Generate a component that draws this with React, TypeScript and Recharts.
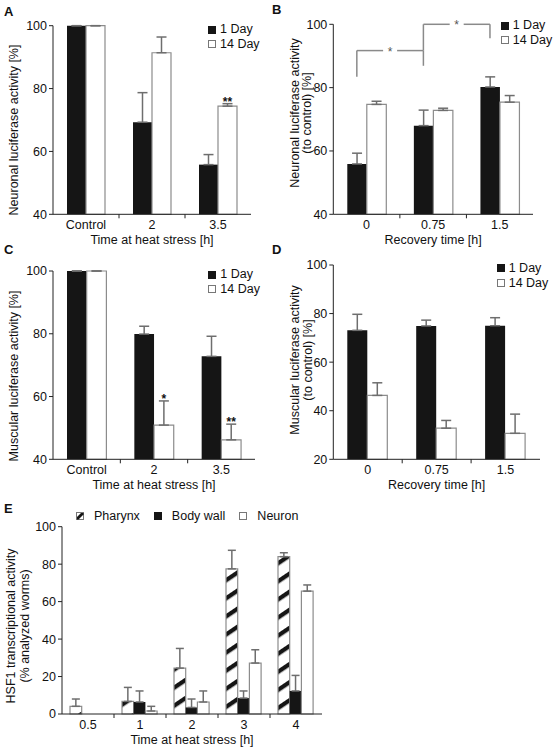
import React from 'react';
import { BarChart, Bar, XAxis, YAxis, ErrorBar, Legend, Label, ReferenceLine, ReferenceDot } from 'recharts';

// categories
const heatCats = ['Control', '2', '3.5'];
const recoveryCats = ['0', '0.75', '1.5'];
const hoursE = ['0.5', '1', '2', '3', '4'];
const ageSeries = ['1 Day', '14 Day'];
const tissueSeries = ['Pharynx', 'Body wall', 'Neuron'];

// A: neuronal luciferase, heat stress
const neuroHeat1 = [100, 69.3, 55.8];
const neuroHeat1Err = [0, 9.4, 3.2];
const neuroHeat14 = [100, 91.4, 74.4];
const neuroHeat14Err = [0, 5.0, 0.8];
const neuroHeatSig = ['', '', '**'];

// B: neuronal luciferase, recovery
const neuroRec1 = [55.9, 68.0, 80.2];
const neuroRec1Err = [3.4, 4.9, 3.2];
const neuroRec14 = [74.7, 72.8, 75.4];
const neuroRec14Err = [1.0, 0.7, 2.1];
const bracketFrom = ['0', '0.75'];
const bracketTo = ['0.75', '1.5'];
const bracketFromBase = [83.4, 91.7];
const bracketToBase = [86.9, 95.6];
const bracketTop = [91.7, 100];
const bracketMark = ['*', '*'];

// C: muscular luciferase, heat stress
const muscHeat1 = [100, 79.9, 72.8];
const muscHeat1Err = [0, 2.5, 6.4];
const muscHeat14 = [100, 50.9, 46.2];
const muscHeat14Err = [0, 7.7, 5.0];
const muscHeatSig = ['', '*', '**'];

// D: muscular luciferase, recovery
const muscRec1 = [73.1, 74.9, 75.0];
const muscRec1Err = [6.6, 2.4, 3.3];
const muscRec14 = [46.3, 32.8, 30.7];
const muscRec14Err = [5.2, 3.2, 7.9];

// E: HSF1 activity per tissue
const pharynx = [4.1, 6.7, 24.5, 77.5, 84.0];
const pharynxErr = [3.9, 7.5, 10.5, 9.9, 2.1];
const bodyWall = [0, 6.4, 3.5, 8.5, 12.3];
const bodyWallErr = [0, 5.9, 4.5, 3.8, 8.3];
const neuron = [0, 1.6, 6.4, 27.2, 65.6];
const neuronErr = [0, 2.5, 5.9, 7.1, 3.3];

const BLACK = '#151515';
const OUTLINE = '#8c8c8c';
const ERR = '#6e6e6e';
const AXIS = '#222';
const TEXT = '#111';
const BRACKET = '#8a8a8a';
const FONT = '"Liberation Sans", Arial, Helvetica, sans-serif';
const FS = 12.5;

const pairRows = (cats: string[], a: number[], aErr: number[], b: number[], bErr: number[]) =>
  cats.map((name, i) => ({ name, day1: a[i], day1Err: [0, aErr[i]], day14: b[i], day14Err: [0, bErr[i]] }));

const rowsE = hoursE.map((name, i) => ({
  name,
  pharynx: pharynx[i], pharynxErr: [0, pharynxErr[i]],
  body: bodyWall[i], bodyErr: [0, bodyWallErr[i]],
  neuron: neuron[i], neuronErr: [0, neuronErr[i]],
}));

const SWATCH: Record<string, string> = { '1 Day': 'black', '14 Day': 'white', Pharynx: 'hatch', 'Body wall': 'black', Neuron: 'white' };

const Swatch = ({ kind }: { kind: string }) => (
  <svg width={8} height={8} style={{ display: 'block', flex: 'none' }}>
    <rect x={0.5} y={0.5} width={7} height={7} fill={kind === 'black' ? BLACK : '#fff'} stroke={kind === 'black' ? BLACK : '#777'} />
    {kind === 'hatch' && <polygon points="1,5 5,1 7.5,1 7.5,2.5 2.5,7.5 1,7.5" fill={BLACK} />}
  </svg>
);

const LegendBox = ({ payload, horizontal, order }: any) => {
  const items = [...(payload || [])].sort((a: any, b: any) => order.indexOf(a.value) - order.indexOf(b.value));
  return (
    <div style={{ display: 'flex', flexDirection: horizontal ? 'row' : 'column', fontSize: FS, lineHeight: '14.5px', color: TEXT, fontFamily: FONT }}>
      {items.map((e: any) => (
        <div key={e.value} style={{ display: 'flex', alignItems: 'center', marginRight: horizontal ? 14 : 0, whiteSpace: 'nowrap' }}>
          <Swatch kind={SWATCH[e.value]} />
          <span style={{ marginLeft: horizontal ? 10 : 4 }}>{e.value}</span>
        </div>
      ))}
    </div>
  );
};

const BandTick = (props: any) => {
  const { x, y, payload, index, band, count } = props;
  const axisY = y - 6;
  return (
    <g>
      <text x={x} y={y} dy="0.71em" textAnchor="middle" fontSize={FS} fill={TEXT}>{payload.value}</text>
      {index < count - 1 && <line x1={x + band / 2} x2={x + band / 2} y1={axisY} y2={axisY + 4} stroke={AXIS} />}
    </g>
  );
};

const YTitle = ({ lines, xs, cy }: { lines: string[]; xs: number[]; cy: number }) => (
  <g>
    {lines.map((t, i) => (
      <text key={t} x={xs[i]} y={cy} transform={`rotate(-90 ${xs[i]} ${cy})`} textAnchor="middle" dominantBaseline="central" fontSize={FS} fill={TEXT}>
        {t}
      </text>
    ))}
  </g>
);

const starShape = (mark: string, dx: number) => (p: any) => (
  <text x={p.cx + dx} y={p.cy + 2} textAnchor="middle" fontSize={12} fontWeight="bold" fill={TEXT}>{mark}</text>
);

const legShape = (dx: number) => (p: any) => (
  <line x1={p.x1 + dx} y1={p.y1} x2={p.x2 + dx} y2={p.y2} stroke={BRACKET} strokeWidth={1.5} />
);

const spanShape = (dx: number, mark: string) => (p: any) => {
  const a = p.x1 + dx;
  const b = p.x2 + dx;
  const m = (a + b) / 2;
  return (
    <g>
      <line x1={a} y1={p.y1} x2={m - 7} y2={p.y1} stroke={BRACKET} strokeWidth={1.5} />
      <line x1={m + 7} y1={p.y1} x2={b} y2={p.y1} stroke={BRACKET} strokeWidth={1.5} />
      <text x={m} y={p.y1 + 5} textAnchor="middle" fontSize={12} fill="#555">{mark}</text>
    </g>
  );
};

type PairProps = {
  left: number; top: number; width: number; height: number;
  margin: { top: number; right: number; bottom: number; left: number };
  yWidth: number; domain: [number, number]; ticks: number[];
  rows: any[]; barSize: number;
  yTitle: string[]; yTitleX: number[]; yTitleY: number; xTitle: string;
  legendAt: { left: number; top: number };
  sig?: string[];
  children?: React.ReactNode;
};

function PairPanel(p: PairProps) {
  const plotW = p.width - p.margin.left - p.yWidth - p.margin.right;
  const band = plotW / p.rows.length;
  return (
    <div style={{ position: 'absolute', left: p.left, top: p.top }}>
      <BarChart width={p.width} height={p.height} data={p.rows} margin={p.margin} barGap={0} barSize={p.barSize}>
        <XAxis dataKey="name" height={30} interval={0} axisLine={{ stroke: AXIS }} tickLine={false} tickSize={4} tickMargin={2}
          tick={<BandTick band={band} count={p.rows.length} />}>
          <Label value={p.xTitle} position="insideBottom" offset={0} style={{ fontSize: FS, fill: TEXT }} />
        </XAxis>
        <YAxis width={p.yWidth} type="number" domain={p.domain} ticks={p.ticks} interval={0} axisLine={{ stroke: AXIS }}
          tickLine={{ stroke: AXIS }} tickSize={4} tickMargin={2} tick={{ fontSize: FS, fill: TEXT }}>
          <Label content={() => <YTitle lines={p.yTitle} xs={p.yTitleX} cy={p.yTitleY} />} />
        </YAxis>
        <Legend layout="horizontal" verticalAlign="middle" align="center"
          wrapperStyle={{ left: p.legendAt.left, top: p.legendAt.top, width: 'auto', height: 'auto' }}
          content={(lp: any) => <LegendBox payload={lp.payload} order={ageSeries} />} />
        <Bar dataKey="day1" name={ageSeries[0]} fill={BLACK} isAnimationActive={false}>
          <ErrorBar dataKey="day1Err" direction="y" width={5} stroke={ERR} strokeWidth={1.5} />
        </Bar>
        <Bar dataKey="day14" name={ageSeries[1]} fill="#fff" stroke={OUTLINE} strokeWidth={1.2} isAnimationActive={false}>
          <ErrorBar dataKey="day14Err" direction="y" width={5} stroke={ERR} strokeWidth={1.5} />
        </Bar>
        {(p.sig || []).map((s, i) =>
          s ? (
            <ReferenceDot key={`sig-${i}`} x={p.rows[i].name} y={p.rows[i].day14 + p.rows[i].day14Err[1]} r={1}
              ifOverflow="visible" shape={starShape(s, p.barSize / 2)} />
          ) : null
        )}
        {p.children}
      </BarChart>
    </div>
  );
}

const letter = (ch: string, left: number, top: number) => (
  <div style={{ position: 'absolute', left, top, fontSize: 13, lineHeight: '13px', fontWeight: 'bold', color: TEXT }}>{ch}</div>
);

export default function App() {
  const barB = 19.5;
  const plotWE = 553 - 62 - 231;
  return (
    <div style={{ position: 'absolute', left: 0, top: 0, width: 553, height: 749, background: '#fff', fontFamily: FONT, overflow: 'hidden' }}>
      {letter('A', 4, 5)}
      {letter('B', 272, 3)}
      {letter('C', 4, 243)}
      {letter('D', 272, 243)}
      {letter('E', 4, 502)}

      <PairPanel left={0} top={0} width={280} height={250}
        margin={{ top: 25.7, right: 29, bottom: 5.7, left: 0 }} yWidth={53}
        domain={[40, 100]} ticks={[40, 60, 80, 100]} barSize={19}
        rows={pairRows(heatCats, neuroHeat1, neuroHeat1Err, neuroHeat14, neuroHeat14Err)}
        yTitle={['Neuronal luciferase activity [%]']} yTitleX={[14]} yTitleY={130}
        xTitle="Time at heat stress [h]" legendAt={{ left: 208, top: 22.3 }} sig={neuroHeatSig} />

      <PairPanel left={270} top={0} width={283} height={250}
        margin={{ top: 24.3, right: 20, bottom: 5.7, left: 0 }} yWidth={63.3}
        domain={[40, 100]} ticks={[40, 60, 80, 100]} barSize={barB}
        rows={pairRows(recoveryCats, neuroRec1, neuroRec1Err, neuroRec14, neuroRec14Err)}
        yTitle={['Neuronal luciferase activity', '(to control) [%]']} yTitleX={[25, 37]} yTitleY={113}
        xTitle="Recovery time [h]" legendAt={{ left: 230.7, top: 18.3 }}>
        {bracketFrom.map((f, i) => (
          <ReferenceLine key={`bl-${i}`} ifOverflow="visible" segment={[{ x: f, y: bracketFromBase[i] }, { x: f, y: bracketTop[i] }]} shape={legShape(-barB / 2)} />
        ))}
        {bracketTo.map((t, i) => (
          <ReferenceLine key={`br-${i}`} ifOverflow="visible" segment={[{ x: t, y: bracketToBase[i] }, { x: t, y: bracketTop[i] }]} shape={legShape(-barB / 2)} />
        ))}
        {bracketFrom.map((f, i) => (
          <ReferenceLine key={`bs-${i}`} ifOverflow="visible" segment={[{ x: f, y: bracketTop[i] }, { x: bracketTo[i], y: bracketTop[i] }]} shape={spanShape(-barB / 2, bracketMark[i])} />
        ))}
      </PairPanel>

      <PairPanel left={0} top={250} width={280} height={250}
        margin={{ top: 21, right: 25, bottom: 10.7, left: 0 }} yWidth={53}
        domain={[40, 100]} ticks={[40, 60, 80, 100]} barSize={19.7}
        rows={pairRows(heatCats, muscHeat1, muscHeat1Err, muscHeat14, muscHeat14Err)}
        yTitle={['Muscular luciferase activity [%]']} yTitleX={[14]} yTitleY={126}
        xTitle="Time at heat stress [h]" legendAt={{ left: 208.3, top: 17.3 }} sig={muscHeatSig} />

      <PairPanel left={270} top={250} width={283} height={250}
        margin={{ top: 15, right: 13, bottom: 10.7, left: 0 }} yWidth={63.3}
        domain={[20, 100]} ticks={[20, 40, 60, 80, 100]} barSize={20}
        rows={pairRows(recoveryCats, muscRec1, muscRec1Err, muscRec14, muscRec14Err)}
        yTitle={['Muscular luciferase activity', '(to control) [%]']} yTitleX={[25, 37.7]} yTitleY={110}
        xTitle="Recovery time [h]" legendAt={{ left: 226.7, top: 11 }} />

      <div style={{ position: 'absolute', left: 0, top: 495 }}>
        <BarChart width={553} height={254} data={rowsE} margin={{ top: 31.7, right: 231, bottom: 5, left: 0 }} barGap={0} barSize={11.7}>
          <defs>
            <pattern id="hatchE" patternUnits="userSpaceOnUse" width={15} height={15} patternTransform="rotate(-34)">
              <rect width={15} height={15} fill="#fff" />
              <rect width={15} height={4.3} fill={BLACK} />
            </pattern>
          </defs>
          <XAxis dataKey="name" height={30} interval={0} axisLine={{ stroke: AXIS }} tickLine={false} tickSize={4} tickMargin={2}
            tick={<BandTick band={plotWE / rowsE.length} count={rowsE.length} />}>
            <Label value="Time at heat stress [h]" position="insideBottom" offset={0} style={{ fontSize: FS, fill: TEXT }} />
          </XAxis>
          <YAxis width={62} type="number" domain={[0, 100]} ticks={[0, 20, 40, 60, 80, 100]} interval={0} axisLine={{ stroke: AXIS }}
            tickLine={{ stroke: AXIS }} tickSize={4} tickMargin={2} tick={{ fontSize: FS, fill: TEXT }}>
            <Label content={() => <YTitle lines={['HSF1 transcriptional activity', '(% analyzed worms)']} xs={[10.6, 24.8]} cy={131} />} />
          </YAxis>
          <Legend layout="horizontal" verticalAlign="middle" align="center"
            wrapperStyle={{ left: 76, top: 14, width: 'auto', height: 'auto' }}
            content={(lp: any) => <LegendBox payload={lp.payload} order={tissueSeries} horizontal />} />
          <Bar dataKey="pharynx" name={tissueSeries[0]} fill="url(#hatchE)" stroke={OUTLINE} strokeWidth={1.2} isAnimationActive={false}>
            <ErrorBar dataKey="pharynxErr" direction="y" width={4} stroke={ERR} strokeWidth={1.5} />
          </Bar>
          <Bar dataKey="body" name={tissueSeries[1]} fill={BLACK} isAnimationActive={false}>
            <ErrorBar dataKey="bodyErr" direction="y" width={4} stroke={ERR} strokeWidth={1.5} />
          </Bar>
          <Bar dataKey="neuron" name={tissueSeries[2]} fill="#fff" stroke={OUTLINE} strokeWidth={1.2} isAnimationActive={false}>
            <ErrorBar dataKey="neuronErr" direction="y" width={4} stroke={ERR} strokeWidth={1.5} />
          </Bar>
        </BarChart>
      </div>
    </div>
  );
}
